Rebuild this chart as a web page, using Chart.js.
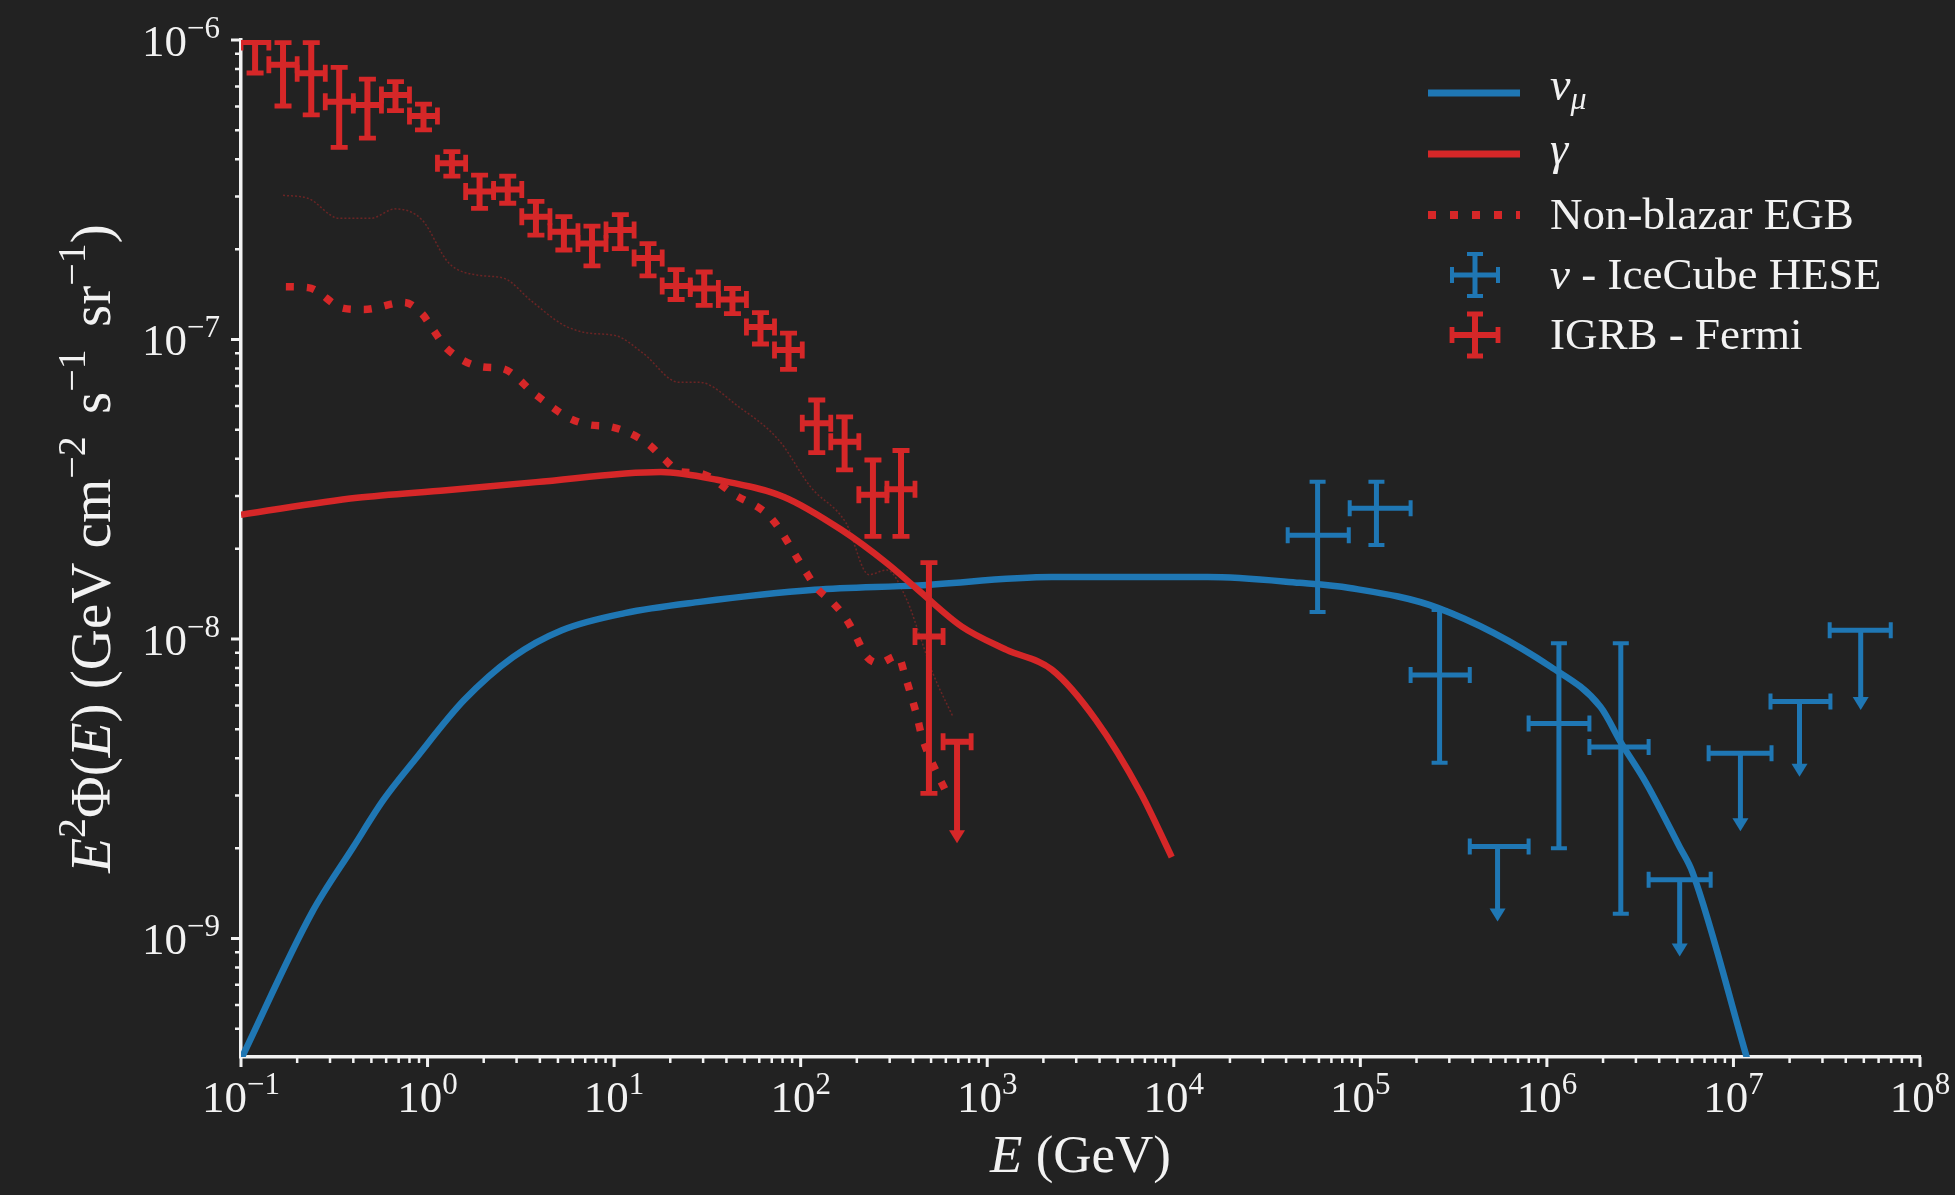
<!DOCTYPE html>
<html>
<head>
<meta charset="utf-8">
<script src="https://cdn.jsdelivr.net/npm/chart.js@4.4.1/dist/chart.umd.min.js"></script>
<style>
  html, body { margin: 0; padding: 0; background: #222222; }
  #wrap { width: 1955px; height: 1195px; }
</style>
</head>
<body>
<div id="wrap"><canvas id="chart"></canvas></div>
<script>
const BG = '#222222';
const BLUE = '#1f77b4';
const RED = '#d62728';
const INK = '#f2f2f2';
const SERIF = '"Liberation Serif", "DejaVu Serif", serif';

// nu_mu model (GeV, GeV cm^-2 s^-1 sr^-1)
const nuE = [0.1, 0.24, 0.4, 0.58, 0.855, 1.57, 2.87, 5.25, 11.4, 28.8, 119, 425, 2220, 15200, 47300, 87700, 2.6e5, 1.05e6, 1.94e6, 2.5e6, 3.4e6, 5.15e6, 6.04e6, 1.18e7];
const nuFlux = [3.95e-10, 1.22e-9, 2.02e-9, 2.9e-9, 3.95e-9, 6.25e-9, 8.7e-9, 1.07e-8, 1.22e-8, 1.33e-8, 1.46e-8, 1.51e-8, 1.61e-8, 1.61e-8, 1.54e-8, 1.48e-8, 1.27e-8, 8.07e-9, 5.93e-9, 4.5e-9, 3.31e-9, 2.02e-9, 1.66e-9, 4.0e-10];

// gamma model
const gammaE = [0.1, 0.419, 1.26, 3.81, 17.8, 35.6, 81.3, 166, 290, 425, 731, 1270, 2220, 3820, 6650, 9750];
const gammaFlux = [2.6e-8, 2.96e-8, 3.14e-8, 3.34e-8, 3.61e-8, 3.4e-8, 2.98e-8, 2.31e-8, 1.79e-8, 1.46e-8, 1.1e-8, 9.2e-9, 7.9e-9, 5.37e-9, 3.06e-9, 1.87e-9];

// non-blazar EGB (dotted)
const egbE = [0.174, 0.229, 0.356, 0.456, 0.748, 0.933, 1.07, 1.26, 1.96, 2.51, 3.81, 5.73, 7.33, 9.73, 15.0, 18.3, 22.8, 28.5, 44.4, 69.2, 105, 122, 147, 175, 198, 224, 262, 332, 362, 390, 420, 446, 543, 607];
const egbFlux = [1.5e-7, 1.49e-7, 1.27e-7, 1.26e-7, 1.33e-7, 1.22e-7, 1.08e-7, 9.37e-8, 8.1e-8, 8.0e-8, 6.53e-8, 5.47e-8, 5.19e-8, 5.1e-8, 4.51e-8, 4.02e-8, 3.61e-8, 3.58e-8, 3.03e-8, 2.54e-8, 1.7e-8, 1.48e-8, 1.33e-8, 1.17e-8, 1.02e-8, 8.78e-9, 8.31e-9, 8.78e-9, 7.58e-9, 6.5e-9, 5.53e-9, 4.74e-9, 3.52e-9, 3.06e-9];

// faint total curve
const faintE = [0.168, 0.229, 0.335, 0.497, 0.669, 0.933, 1.30, 1.86, 2.57, 3.58, 5.32, 7.33, 10.2, 14.3, 22.2, 28.5, 46.6, 76.4, 113, 175, 232, 290, 371, 425, 511, 655];
const faintFlux = [3.03e-7, 2.96e-7, 2.54e-7, 2.54e-7, 2.73e-7, 2.51e-7, 1.8e-7, 1.64e-7, 1.6e-7, 1.35e-7, 1.12e-7, 1.05e-7, 1.03e-7, 9.0e-8, 7.2e-8, 7.2e-8, 5.96e-8, 4.61e-8, 3.22e-8, 2.44e-8, 1.64e-8, 1.7e-8, 1.35e-8, 1.07e-8, 7.69e-9, 5.5e-9];

// IGRB - Fermi
const fermiE = [0.119, 0.168, 0.238, 0.336, 0.476, 0.673, 0.951, 1.35, 1.90, 2.69, 3.81, 5.38, 7.61, 10.8, 15.2, 21.5, 30.4, 43.1, 60.9, 86.1, 122, 172, 244, 345, 487];
const fermiElo = [0.1, 0.141, 0.2, 0.283, 0.4, 0.566, 0.8, 1.13, 1.6, 2.26, 3.2, 4.53, 6.4, 9.05, 12.8, 18.1, 25.6, 36.2, 51.2, 72.4, 102, 145, 205, 290, 410];
const fermiEhi = [0.141, 0.2, 0.283, 0.4, 0.566, 0.8, 1.13, 1.6, 2.26, 3.2, 4.53, 6.4, 9.05, 12.8, 18.1, 25.6, 36.2, 51.2, 72.4, 102, 145, 205, 290, 410, 580];
const fermiFlux = [9.85e-7, 8.26e-7, 7.74e-7, 6.22e-7, 6.07e-7, 6.55e-7, 5.57e-7, 3.88e-7, 3.12e-7, 3.17e-7, 2.57e-7, 2.29e-7, 2.09e-7, 2.32e-7, 1.87e-7, 1.51e-7, 1.48e-7, 1.36e-7, 1.10e-7, 9.23e-8, 5.25e-8, 4.56e-8, 3.03e-8, 3.16e-8, 1.02e-8];
const fermiLo = [7.76e-7, 6.02e-7, 5.62e-7, 4.38e-7, 4.7e-7, 5.81e-7, 5.01e-7, 3.51e-7, 2.74e-7, 2.85e-7, 2.23e-7, 1.99e-7, 1.76e-7, 2.01e-7, 1.63e-7, 1.36e-7, 1.30e-7, 1.22e-7, 9.66e-8, 7.95e-8, 4.19e-8, 3.67e-8, 2.2e-8, 2.2e-8, 3.05e-9];
const fermiHi = [1.2e-6, 9.8e-7, 9.8e-7, 8.1e-7, 7.4e-7, 7.26e-7, 6.11e-7, 4.24e-7, 3.54e-7, 3.51e-7, 2.89e-7, 2.57e-7, 2.39e-7, 2.61e-7, 2.09e-7, 1.71e-7, 1.68e-7, 1.48e-7, 1.23e-7, 1.05e-7, 6.28e-8, 5.52e-8, 3.96e-8, 4.26e-8, 1.8e-8];
// Fermi upper limit
const fermiUlE = [689];
const fermiUlElo = [580];
const fermiUlEhi = [820];
const fermiUl = [4.54e-9];
const fermiUlEnd = [2.08e-9];

// nu - IceCube HESE
const heseE = [5.9e4, 1.22e5, 2.66e5, 1.16e6, 2.49e6];
const heseElo = [4.08e4, 8.77e4, 1.86e5, 7.98e5, 1.69e6];
const heseEhi = [8.67e4, 1.86e5, 3.86e5, 1.69e6, 3.51e6];
const heseFlux = [2.22e-8, 2.73e-8, 7.58e-9, 5.22e-9, 4.36e-9];
const heseLo = [1.23e-8, 2.06e-8, 3.86e-9, 2.0e-9, 1.21e-9];
const heseHi = [3.35e-8, 3.35e-8, 1.25e-8, 9.68e-9, 9.68e-9];
// HESE upper limits
const heseUlE = [5.44e5, 5.15e6, 1.09e7, 2.26e7, 4.81e7];
const heseUlElo = [3.86e5, 3.51e6, 7.36e6, 1.58e7, 3.28e7];
const heseUlEhi = [7.98e5, 7.55e6, 1.6e7, 3.31e7, 6.97e7];
const heseUl = [2.03e-9, 1.57e-9, 4.15e-9, 6.18e-9, 1.07e-8];
const heseUlEnd = [1.14e-9, 8.7e-10, 2.28e-9, 3.47e-9, 5.79e-9];

// axes
const xMin = 0.1, xMax = 1e8;
const yMin = 4.02e-10, yMax = 1e-6;
const xTicks = [1e-1, 1e0, 1e1, 1e2, 1e3, 1e4, 1e5, 1e6, 1e7, 1e8];
const xTickExp = ['\u22121', '0', '1', '2', '3', '4', '5', '6', '7', '8'];
const yTicks = [1e-9, 1e-8, 1e-7, 1e-6];
const yTickExp = ['\u22129', '\u22128', '\u22127', '\u22126'];

const toPts = (xs, ys) => xs.map((x, i) => ({ x: x, y: ys[i] }));

function fontOf(p) {
  return (p.it ? 'italic ' : '') + p.size + 'px ' + SERIF;
}

function drawRich(ctx, parts, x, y, align) {
  let w = 0;
  parts.forEach((p) => {
    ctx.font = fontOf(p);
    p.w = ctx.measureText(p.t).width + (p.gap || 0);
    w += p.w;
  });
  let cx = align === 'center' ? x - w / 2 : (align === 'right' ? x - w : x);
  parts.forEach((p) => {
    ctx.font = fontOf(p);
    ctx.fillText(p.t, cx, y + (p.dy || 0));
    cx += p.w;
  });
}

function minorTicks(lo, hi) {
  const out = [];
  for (let d = Math.floor(Math.log10(lo)); d <= Math.ceil(Math.log10(hi)); d++) {
    for (let m = 2; m <= 9; m++) {
      const v = m * Math.pow(10, d);
      if (v >= lo && v <= hi) out.push(v);
    }
  }
  return out;
}

function errBar(ctx, xs, ys, x, xlo, xhi, y, ylo, yhi, color, lw, cap) {
  const px = xs.getPixelForValue(x), py = ys.getPixelForValue(y);
  const pxl = xs.getPixelForValue(xlo), pxh = xs.getPixelForValue(xhi);
  const pyl = ys.getPixelForValue(ylo), pyh = ys.getPixelForValue(yhi);
  ctx.strokeStyle = color;
  ctx.lineWidth = lw;
  ctx.lineCap = 'butt';
  ctx.beginPath();
  ctx.moveTo(pxl, py); ctx.lineTo(pxh, py);
  ctx.moveTo(px, pyl); ctx.lineTo(px, pyh);
  ctx.stroke();
  ctx.lineWidth = lw * 0.8;
  ctx.beginPath();
  ctx.moveTo(pxl, py - cap); ctx.lineTo(pxl, py + cap);
  ctx.moveTo(pxh, py - cap); ctx.lineTo(pxh, py + cap);
  ctx.moveTo(px - cap, pyl); ctx.lineTo(px + cap, pyl);
  ctx.moveTo(px - cap, pyh); ctx.lineTo(px + cap, pyh);
  ctx.stroke();
}

function upperLimit(ctx, xs, ys, x, xlo, xhi, y, yend, color, lw, cap) {
  const px = xs.getPixelForValue(x), py = ys.getPixelForValue(y);
  const pxl = xs.getPixelForValue(xlo), pxh = xs.getPixelForValue(xhi);
  const pe = ys.getPixelForValue(yend);
  ctx.strokeStyle = color;
  ctx.fillStyle = color;
  ctx.lineWidth = lw;
  ctx.beginPath();
  ctx.moveTo(pxl, py); ctx.lineTo(pxh, py);
  ctx.moveTo(px, py); ctx.lineTo(px, pe - 10);
  ctx.stroke();
  ctx.lineWidth = lw * 0.8;
  ctx.beginPath();
  ctx.moveTo(pxl, py - cap); ctx.lineTo(pxl, py + cap);
  ctx.moveTo(pxh, py - cap); ctx.lineTo(pxh, py + cap);
  ctx.stroke();
  ctx.beginPath();
  ctx.moveTo(px - 8, pe - 13);
  ctx.lineTo(px + 8, pe - 13);
  ctx.lineTo(px, pe);
  ctx.closePath();
  ctx.fill();
}

const decor = {
  id: 'decor',
  beforeDraw(chart) {
    const ctx = chart.ctx;
    ctx.save();
    ctx.fillStyle = BG;
    ctx.fillRect(0, 0, chart.width, chart.height);
    ctx.restore();
  },
  afterDatasetsDraw(chart) {
    const ctx = chart.ctx, a = chart.chartArea;
    const xs = chart.scales.x, ys = chart.scales.y;
    ctx.save();
    ctx.beginPath();
    ctx.rect(a.left, a.top, a.right - a.left, a.bottom - a.top);
    ctx.clip();
    fermiE.forEach((e, i) => errBar(ctx, xs, ys, e, fermiElo[i], fermiEhi[i], fermiFlux[i], fermiLo[i], fermiHi[i], RED, 6, 8.5));
    fermiUlE.forEach((e, i) => upperLimit(ctx, xs, ys, e, fermiUlElo[i], fermiUlEhi[i], fermiUl[i], fermiUlEnd[i], RED, 6, 8.5));
    heseE.forEach((e, i) => errBar(ctx, xs, ys, e, heseElo[i], heseEhi[i], heseFlux[i], heseLo[i], heseHi[i], BLUE, 5, 8));
    heseUlE.forEach((e, i) => upperLimit(ctx, xs, ys, e, heseUlElo[i], heseUlEhi[i], heseUl[i], heseUlEnd[i], BLUE, 5, 8));
    ctx.restore();
  },
  afterDraw(chart) {
    const ctx = chart.ctx, a = chart.chartArea;
    const xs = chart.scales.x, ys = chart.scales.y;
    ctx.save();
    // tick marks
    ctx.strokeStyle = INK;
    ctx.beginPath();
    ctx.lineWidth = 3;
    xTicks.forEach((v) => { const p = xs.getPixelForValue(v); ctx.moveTo(p, a.bottom); ctx.lineTo(p, a.bottom + 10); });
    yTicks.forEach((v) => { const p = ys.getPixelForValue(v); ctx.moveTo(a.left, p); ctx.lineTo(a.left - 10, p); });
    ctx.stroke();
    ctx.beginPath();
    ctx.lineWidth = 2.5;
    minorTicks(xMin, xMax).forEach((v) => { const p = xs.getPixelForValue(v); ctx.moveTo(p, a.bottom); ctx.lineTo(p, a.bottom + 6); });
    minorTicks(yMin, yMax).forEach((v) => { const p = ys.getPixelForValue(v); ctx.moveTo(a.left, p); ctx.lineTo(a.left - 6, p); });
    ctx.stroke();

    // tick labels
    ctx.fillStyle = INK;
    ctx.textBaseline = 'alphabetic';
    xTicks.forEach((v, i) => {
      drawRich(ctx, [{ t: '10', size: 45 }, { t: xTickExp[i], size: 31, dy: -18 }], xs.getPixelForValue(v), a.bottom + 55, 'center');
    });
    yTicks.forEach((v, i) => {
      drawRich(ctx, [{ t: '10', size: 45 }, { t: yTickExp[i], size: 31, dy: -18 }], a.left - 21, ys.getPixelForValue(v) + 16, 'right');
    });

    // axis titles
    drawRich(ctx, [{ t: 'E', it: true, size: 53 }, { t: ' (GeV)', size: 53 }], (a.left + a.right) / 2, 1172, 'center');
    ctx.save();
    ctx.translate(110, (a.top + a.bottom) / 2);
    ctx.rotate(-Math.PI / 2);
    drawRich(ctx, [
      { t: 'E', it: true, size: 57 }, { t: '2', size: 40, dy: -25 },
      { t: '\u03A6(', size: 57 }, { t: 'E', it: true, size: 57 },
      { t: ') (GeV cm', size: 57 }, { t: '\u22122', size: 40, dy: -25, gap: 8 },
      { t: ' s', size: 57 }, { t: '\u22121', size: 40, dy: -25, gap: 8 },
      { t: ' sr', size: 57 }, { t: '\u22121', size: 40, dy: -25 },
      { t: ')', size: 57 }
    ], 0, 0, 'center');
    ctx.restore();

    // legend
    const lx0 = 1428, lx1 = 1520, tx = 1550;
    ctx.lineCap = 'butt';
    ctx.lineWidth = 7;
    ctx.strokeStyle = BLUE;
    ctx.beginPath(); ctx.moveTo(lx0, 93); ctx.lineTo(lx1, 93); ctx.stroke();
    ctx.strokeStyle = RED;
    ctx.beginPath(); ctx.moveTo(lx0, 154); ctx.lineTo(lx1, 154); ctx.stroke();
    ctx.lineWidth = 8;
    ctx.setLineDash([8, 14]);
    ctx.beginPath(); ctx.moveTo(lx0, 215); ctx.lineTo(lx1, 215); ctx.stroke();
    ctx.setLineDash([]);
    [[275, BLUE, 5], [335, RED, 6]].forEach(([gy, col, lw]) => {
      ctx.strokeStyle = col;
      ctx.lineWidth = lw;
      ctx.beginPath();
      ctx.moveTo(1452, gy); ctx.lineTo(1498, gy);
      ctx.moveTo(1475, gy - 21); ctx.lineTo(1475, gy + 21);
      ctx.stroke();
      ctx.lineWidth = lw * 0.8;
      ctx.beginPath();
      ctx.moveTo(1452, gy - 8); ctx.lineTo(1452, gy + 8);
      ctx.moveTo(1498, gy - 8); ctx.lineTo(1498, gy + 8);
      ctx.moveTo(1467, gy - 21); ctx.lineTo(1483, gy - 21);
      ctx.moveTo(1467, gy + 21); ctx.lineTo(1483, gy + 21);
      ctx.stroke();
    });
    ctx.fillStyle = INK;
    drawRich(ctx, [{ t: '\u03BD', it: true, size: 46 }, { t: '\u03BC', it: true, size: 32, dy: 9 }], tx, 100, 'left');
    drawRich(ctx, [{ t: '\u03B3', it: true, size: 46 }], tx, 164, 'left');
    drawRich(ctx, [{ t: 'Non-blazar EGB', size: 45 }], tx, 229, 'left');
    drawRich(ctx, [{ t: '\u03BD', it: true, size: 45 }, { t: ' - IceCube HESE', size: 45 }], tx, 289, 'left');
    drawRich(ctx, [{ t: 'IGRB - Fermi', size: 45 }], tx, 349, 'left');
    ctx.restore();
  }
};

const smooth = { cubicInterpolationMode: 'monotone', pointRadius: 0, fill: false, clip: 0 };

new Chart(document.getElementById('chart'), {
  type: 'line',
  data: {
    datasets: [
      Object.assign({ label: 'egb', data: toPts(egbE, egbFlux), borderColor: RED, borderWidth: 7.5, borderDash: [8, 13], borderCapStyle: 'butt', order: 1 }, smooth),
      Object.assign({ label: 'gamma', data: toPts(gammaE, gammaFlux), borderColor: RED, borderWidth: 6.5, order: 2 }, smooth),
      Object.assign({ label: 'nu_mu', data: toPts(nuE, nuFlux), borderColor: BLUE, borderWidth: 6.5, order: 3 }, smooth),
      Object.assign({ label: 'faint', data: toPts(faintE, faintFlux), borderColor: 'rgba(214,39,40,0.4)', borderWidth: 1.5, borderDash: [2, 2], order: 4 }, smooth)
    ]
  },
  options: {
    responsive: true,
    maintainAspectRatio: false,
    animation: false,
    layout: { padding: { top: 40, right: 35, left: 0, bottom: 0 } },
    plugins: { legend: { display: false }, tooltip: { enabled: false } },
    scales: {
      x: {
        type: 'logarithmic', min: xMin, max: xMax,
        grid: { display: true, color: 'rgba(0,0,0,0)', drawTicks: false },
        border: { display: true, color: INK, width: 3.5 },
        ticks: { display: false },
        afterFit: (s) => { s.height = 138; }
      },
      y: {
        type: 'logarithmic', min: yMin, max: yMax,
        grid: { display: true, color: 'rgba(0,0,0,0)', drawTicks: false },
        border: { display: true, color: INK, width: 3.5 },
        ticks: { display: false },
        afterFit: (s) => { s.width = 241; }
      }
    }
  },
  plugins: [decor]
});
</script>
</body>
</html>
